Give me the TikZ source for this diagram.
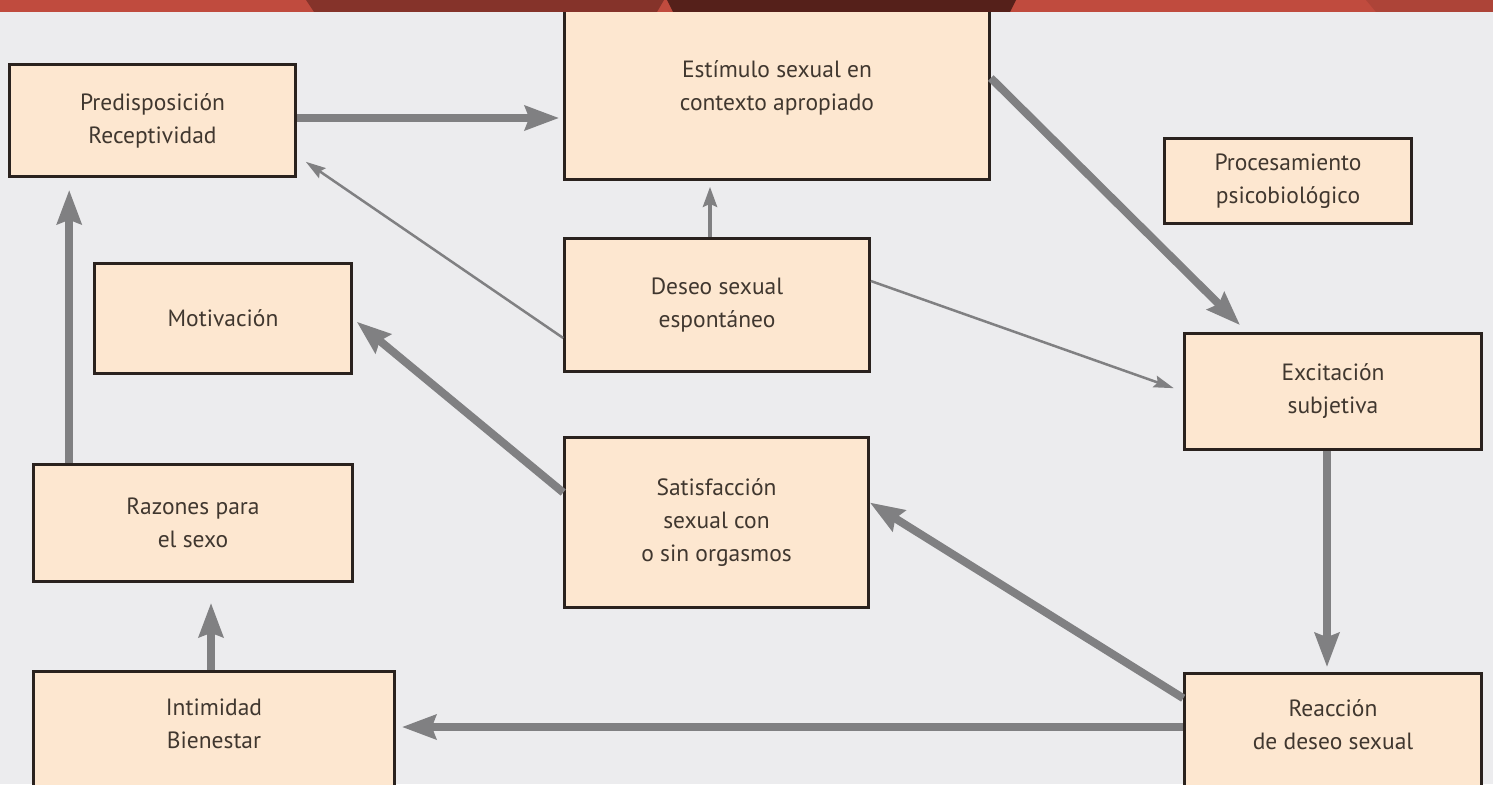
\documentclass[tikz,border=0pt]{standalone}
\usepackage{fontspec}
\setmainfont{PT Sans}
\usetikzlibrary{arrows.meta}

\definecolor{backgray}{HTML}{ECECEE}
\definecolor{boxfill}{HTML}{FDE7D0}
\definecolor{boxline}{HTML}{2A221E}
\definecolor{boxtext}{HTML}{40372F}
\definecolor{arrowgray}{HTML}{808082}
\definecolor{bandred}{HTML}{C04B3E}
\definecolor{banddark}{HTML}{85332A}
\definecolor{banddeep}{HTML}{55201A}

\begin{document}
\begin{tikzpicture}[
                x = 1pt, y = -1pt, % pixel grid, y pointing down
                > = {Stealth[length=34pt, width=24pt, inset=4pt]}, % arrow head style
                semithick % line style
            ]

            \tikzstyle{every node}=[draw = boxline, fill = boxfill, line width = 2.6pt,
            text = boxtext, align = center, inner sep = 0pt,
            font = \fontsize{23.5}{33}\selectfont]
            \tikzstyle{bigarrow}=[->, draw = arrowgray, line width = 8pt]
            \tikzstyle{midarrow}=[-{Stealth[length=20pt, width=14pt, inset=3pt]},
            draw = arrowgray, line width = 4pt]
            \tikzstyle{smallarrow}=[-{Stealth[length=20pt, width=12pt, inset=3pt]},
            draw = arrowgray, line width = 2.5pt]

            \useasboundingbox (0,0) rectangle (1493,784);
            \fill[backgray] (0,0) rectangle (1493,784);

            \node (pred) [minimum width=286, minimum height=112] at (152.5,120.5)
            {Predisposición\\Receptividad}; \node (estim) [minimum width=425,
            minimum height=183] at (777,88) {Estímulo sexual en\\contexto apropiado};
            \node (proc) [minimum width=247, minimum height=85] at (1288,181)
            {Procesamiento\\psicobiológico}; \node (motiv) [minimum width=257,
            minimum height=110] at (223,318.5) {Motivación}; \node (deseo)
            [minimum width=305, minimum height=133] at (717,305) {Deseo
            sexual\\espontáneo}; \node (excit) [minimum width=297, minimum
            height=116] at (1333,391.5) {Excitación\\subjetiva}; \node (razon)
            [minimum width=319, minimum height=117] at (193,523) {Razones
            para\\el sexo}; \node (satis) [minimum width=304, minimum height=170]
            at (716.5,522.5) {Satisfacción\\sexual con\\o sin orgasmos}; \node
            (intim) [minimum width=361, minimum height=127, text depth=23pt] at
            (214,735) {Intimidad\\Bienestar}; \node (reacc) [minimum width=297,
            minimum height=125, text depth=22pt] at (1333,736) {Reacción\\de deseo
            sexual};

            \path ([yshift=2.5pt]pred.east) edge[bigarrow, shorten >=4pt]
            ([yshift=2.5pt]pred.east -| estim.west); \path ([yshift=10pt]estim.east)
            edge[bigarrow, shorten >=10pt] ([xshift=64pt]excit.north west); \path
            ([xshift=-6pt]excit.south) edge[bigarrow, shorten >=5pt]
            ([xshift=-6pt]reacc.north); \path ([yshift=9pt]reacc.west)
            edge[bigarrow, shorten >=6pt] ([yshift=9pt]reacc.west -| intim.east);
            \path ([yshift=-26pt]reacc.north west) edge[bigarrow]
            ([yshift=20pt]satis.east); \path ([yshift=30pt]satis.west)
            edge[bigarrow, shorten >=5pt] (motiv.east); \path
            ([xshift=-3pt]intim.north) edge[bigarrow, shorten >=20pt]
            ([xshift=-3pt]intim.north |- razon.south); \path
            ([xshift=37pt]razon.north west) edge[bigarrow, shorten >=12pt]
            ([xshift=37pt]razon.north west |- pred.south);

            \path ([xshift=-7pt]deseo.north) edge[midarrow, shorten >=6pt]
            ([xshift=-7pt]deseo.north |- estim.south); \path
            ([yshift=-33pt]deseo.west) edge[smallarrow] ([xshift=9pt,
            yshift=16pt]pred.south east); \path ([yshift=24pt]deseo.east)
            edge[smallarrow, shorten >=10pt] (excit.west);

            % band along the top edge
            \fill[bandred] (0,0) rectangle (1493,12);
            \fill[banddark] (306,0) -- (664,0) -- (657,12) -- (314,12) -- cycle;
            \fill[banddeep] (667,0) -- (1016,0) -- (1010,12) -- (673,12) -- cycle;
            \fill[bandred!90!black] (1366,0) -- (1493,0) -- (1493,12) -- (1376,12) -- cycle;

        \end{tikzpicture}
\end{document}
